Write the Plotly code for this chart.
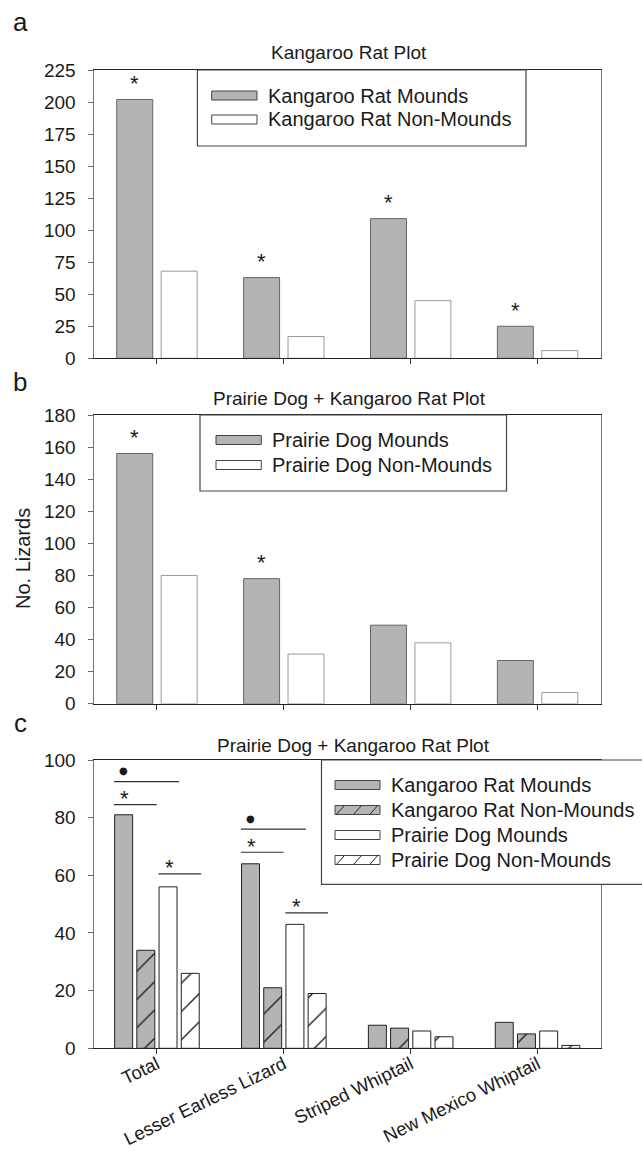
import plotly.graph_objects as go

# ---------------- data ----------------
categories = ["Total", "Lesser Earless Lizard", "Striped Whiptail", "New Mexico Whiptail"]

# Panel a: Kangaroo Rat Plot
kr_mounds_a = [202, 63, 109, 25]
kr_nonmounds_a = [68, 17, 45, 6]
sig_a = [True, True, True, True]

# Panel b: Prairie Dog + Kangaroo Rat Plot
pd_mounds_b = [156, 78, 49, 27]
pd_nonmounds_b = [80, 31, 38, 7]
sig_b = [True, True, False, False]

# Panel c: Prairie Dog + Kangaroo Rat Plot
kr_mounds_c = [81, 64, 8, 9]
kr_nonmounds_c = [34, 21, 7, 5]
pd_mounds_c = [56, 43, 6, 6]
pd_nonmounds_c = [26, 19, 4, 1]

# significance brackets in panel c: (category index, first series, last series, level, symbol)
brackets_c = [
    (0, 0, 2, 92.5, "●"),
    (0, 0, 1, 84.5, "*"),
    (0, 2, 3, 60.5, "*"),
    (1, 0, 2, 76.0, "●"),
    (1, 0, 1, 68.0, "*"),
    (1, 2, 3, 47.0, "*"),
]

series_a = ["Kangaroo Rat Mounds", "Kangaroo Rat Non-Mounds"]
series_b = ["Prairie Dog Mounds", "Prairie Dog Non-Mounds"]
series_c = ["Kangaroo Rat Mounds", "Kangaroo Rat Non-Mounds", "Prairie Dog Mounds", "Prairie Dog Non-Mounds"]

# ---------------- style ----------------
W, H = 642, 1152
FONT = "Liberation Sans, Arial, sans-serif"
TXT = "#1a1a1a"
GRAY = "#b4b4b4"
BARGAP = 0.30
GROUPGAP = 0.19


def px_x(x):
    return x / W


def px_y(y):
    return 1 - y / H


xdom = [px_x(93.5), px_x(601)]
ydoms = {
    "a": [px_y(358.3), px_y(70)],
    "b": [px_y(703.8), px_y(415)],
    "c": [px_y(1048.3), px_y(760)],
}

xs = list(range(len(categories)))

fig = go.Figure()


def add_bar(name, vals, xa, ya, fill, edge, hatch=False):
    marker = dict(color=fill, line=dict(color=edge, width=1))
    if hatch:
        marker["pattern"] = dict(shape="/", size=20, solidity=0.07,
                                 fgcolor="#222222", bgcolor=fill, fillmode="replace")
    fig.add_trace(go.Bar(x=xs, y=vals, name=name, xaxis=xa, yaxis=ya,
                         marker=marker, showlegend=False))


add_bar(series_a[0], kr_mounds_a, "x", "y", GRAY, "#666666")
add_bar(series_a[1], kr_nonmounds_a, "x", "y", "white", "#9a9a9a")
add_bar(series_b[0], pd_mounds_b, "x2", "y2", GRAY, "#666666")
add_bar(series_b[1], pd_nonmounds_b, "x2", "y2", "white", "#9a9a9a")
add_bar(series_c[0], kr_mounds_c, "x3", "y3", GRAY, "#222222")
add_bar(series_c[1], kr_nonmounds_c, "x3", "y3", GRAY, "#222222", hatch=True)
add_bar(series_c[2], pd_mounds_c, "x3", "y3", "white", "#222222")
add_bar(series_c[3], pd_nonmounds_c, "x3", "y3", "white", "#222222", hatch=True)


def bar_geom(k, n):
    slot = (1 - BARGAP) / n
    center = (k - (n - 1) / 2) * slot
    width = slot * (1 - GROUPGAP)
    return center, width


annotations = []
shapes = []

# asterisks over panel a and b mound bars
for sig, vals, xa, ya in [(sig_a, kr_mounds_a, "x", "y"), (sig_b, pd_mounds_b, "x2", "y2")]:
    c0, _ = bar_geom(0, 2)
    for i, s in enumerate(sig):
        if s:
            annotations.append(dict(x=xs[i] + c0, y=vals[i], xref=xa, yref=ya, text="*",
                                    showarrow=False, yanchor="middle", yshift=16,
                                    font=dict(size=22, family=FONT, color=TXT)))

# brackets in panel c
for cat, k0, k1, level, sym in brackets_c:
    c0, w = bar_geom(k0, 4)
    c1, _ = bar_geom(k1, 4)
    x0 = xs[cat] + c0 - w / 2 - 0.005
    x1 = xs[cat] + c1 + w / 2 + 0.015
    shapes.append(dict(type="line", xref="x3", yref="y3", x0=x0, x1=x1, y0=level, y1=level,
                       line=dict(color="#333333", width=1.2)))
    if sym == "*":
        annotations.append(dict(x=xs[cat] + c0 + 0.01, y=level, xref="x3", yref="y3", text="*",
                                showarrow=False, yanchor="middle", yshift=6,
                                font=dict(size=22, family=FONT, color=TXT)))
    else:
        annotations.append(dict(x=xs[cat] + c0, y=level, xref="x3", yref="y3", text="●",
                                showarrow=False, yanchor="middle", yshift=11,
                                font=dict(size=10, family="DejaVu Sans", color=TXT)))


# ---------------- custom legends ----------------
def legend(box, sw_x0, sw_x1, txt_x, entries_y, names, fills, hatches):
    x0, y0, x1, y1 = box
    shapes.append(dict(type="rect", xref="paper", yref="paper",
                       x0=px_x(x0), x1=px_x(x1), y0=px_y(y0), y1=px_y(y1),
                       line=dict(color="#444444", width=1.2), fillcolor="white", layer="above"))
    for ey, nm, fc, ht in zip(entries_y, names, fills, hatches):
        h = 4.5
        shapes.append(dict(type="rect", xref="paper", yref="paper",
                           x0=px_x(sw_x0), x1=px_x(sw_x1), y0=px_y(ey + h), y1=px_y(ey - h),
                           line=dict(color="#444444", width=1), fillcolor=fc, layer="above"))
        if ht:
            for f in (0.12, 0.5, 0.86):
                bx = sw_x0 + f * (sw_x1 - sw_x0)
                shapes.append(dict(type="line", xref="paper", yref="paper",
                                   x0=px_x(bx - 4), x1=px_x(bx + 4), y0=px_y(ey + h), y1=px_y(ey - h),
                                   line=dict(color="#222222", width=1), layer="above"))
        annotations.append(dict(x=px_x(txt_x), y=px_y(ey), xref="paper", yref="paper", text=nm,
                                showarrow=False, xanchor="left", yanchor="middle",
                                font=dict(size=20, family=FONT, color=TXT)))


legend((197.4, 70, 526, 146), 211.7, 257, 266, [95.5, 119.5], series_a,
       [GRAY, "white"], [False, False])
legend((200, 415, 506.5, 491), 216, 261.3, 270, [440, 465], series_b,
       [GRAY, "white"], [False, False])
legend((321.5, 760, 646, 884.3), 335, 380, 389, [785, 810, 835, 860], series_c,
       [GRAY, GRAY, "white", "white"], [False, True, False, True])

# titles and panel letters
for txt, cx, cy in [("Kangaroo Rat Plot", 349, 53),
                    ("Prairie Dog + Kangaroo Rat Plot", 349, 398),
                    ("Prairie Dog + Kangaroo Rat Plot", 354, 745)]:
    annotations.append(dict(x=px_x(cx), y=px_y(cy), xref="paper", yref="paper", text=txt,
                            showarrow=False, xanchor="center", yanchor="middle",
                            font=dict(size=19, family=FONT, color=TXT)))
for txt, cx, cy in [("a", 20, 22), ("b", 20, 382), ("c", 20, 723)]:
    annotations.append(dict(x=px_x(cx), y=px_y(cy), xref="paper", yref="paper", text=txt,
                            showarrow=False, xanchor="center", yanchor="middle",
                            font=dict(size=26, family=FONT, color=TXT)))

# y axis title
annotations.append(dict(x=px_x(23), y=px_y(558), xref="paper", yref="paper", text="No. Lizards",
                        showarrow=False, textangle=-90, xanchor="center", yanchor="middle",
                        font=dict(size=20, family=FONT, color=TXT)))

tickfont = dict(size=19, family=FONT, color=TXT)


def xaxis(anchor, labels):
    return dict(domain=xdom, anchor=anchor, range=[-0.5, 3.5], tickmode="array",
                tickvals=xs, ticktext=categories if labels else [""] * len(xs),
                showticklabels=labels, ticks="outside", ticklen=5, tickcolor="#333333",
                showline=True, linecolor="#222222", linewidth=1.3, mirror=True,
                showgrid=False, zeroline=False,
                tickfont=dict(size=18.5, family=FONT, color=TXT),
                tickangle=-26 if labels else 0,
                ticklabelstandoff=-8 if labels else 0,
                automargin=False, fixedrange=True)


def yaxis(anchor, dom, rng, dtick):
    return dict(domain=dom, anchor=anchor, range=rng, dtick=dtick, tick0=0,
                ticks="outside", ticklen=5, tickcolor="#666666",
                showline=True, linecolor="#777777", linewidth=1, mirror=True,
                showgrid=False, zeroline=False, tickfont=tickfont, ticklabelstandoff=8,
                automargin=False, fixedrange=True)


fig.update_layout(
    width=W, height=H,
    margin=dict(l=0, r=0, t=0, b=0),
    paper_bgcolor="white", plot_bgcolor="white",
    barmode="group", bargap=BARGAP, bargroupgap=GROUPGAP,
    showlegend=False,
    font=dict(family=FONT, color=TXT),
    xaxis=xaxis("y", False),
    yaxis=yaxis("x", ydoms["a"], [0, 225], 25),
    xaxis2=xaxis("y2", False),
    yaxis2=yaxis("x2", ydoms["b"], [0, 180], 20),
    xaxis3=xaxis("y3", True),
    yaxis3=yaxis("x3", ydoms["c"], [0, 100], 20),
    shapes=shapes,
    annotations=annotations,
)

fig.write_html("out.html", config={"displayModeBar": False},
               post_script="document.body.style.margin='0';document.body.style.overflow='hidden';")
